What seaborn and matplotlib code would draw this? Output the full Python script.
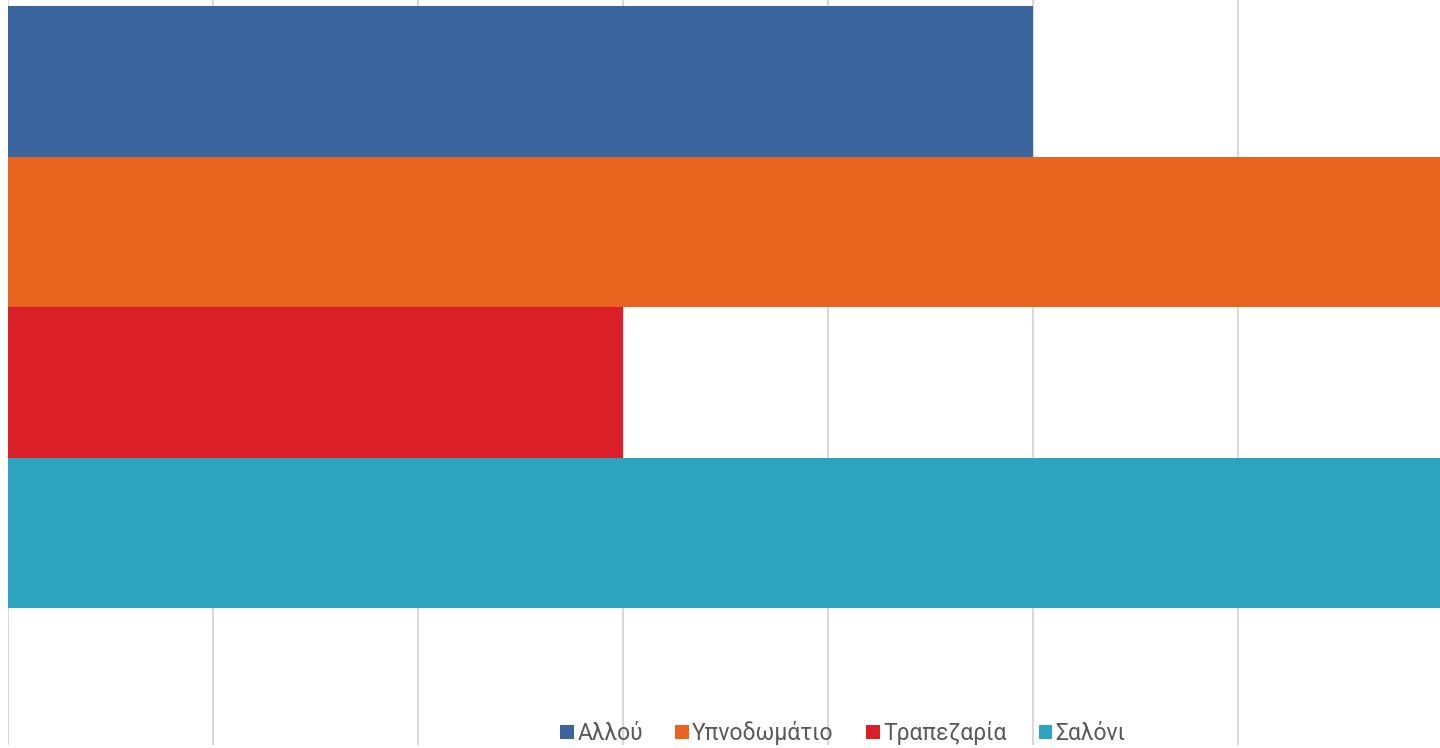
import matplotlib
matplotlib.use('Agg')
import matplotlib.pyplot as plt
import seaborn as sns
import pandas as pd
from matplotlib.patches import Patch

# series (top to bottom) and values
rooms = ['Αλλού', 'Υπνοδωμάτιο', 'Τραπεζαρία', 'Σαλόνι']
values = [5, 7, 3, 7]
colors = ['#3A659E', '#E9641F', '#DA1F28', '#2CA3BF']

df = pd.DataFrame({'room': rooms, 'value': values})

sns.set_style('white')
plt.rcParams['font.family'] = ['Roboto', 'DejaVu Sans']

fig = plt.figure(figsize=(14.4, 7.48), dpi=100)
ax = fig.add_axes([8 / 1440, 3 / 748, (1443 - 8) / 1440, 745 / 748])

sns.barplot(data=df, y='room', x='value', hue='room', palette=colors,
            orient='h', width=1.0, legend=False, ax=ax, zorder=2,
            saturation=1, linewidth=0)

ax.set_xlim(0, 7)
ax.set_ylim(4.41, -0.54)
ax.set_xticks(range(0, 8))
ax.grid(axis='x', color='#d9d9d9', linewidth=1.5, zorder=0)
ax.grid(axis='y', visible=False)
ax.set_axisbelow(True)
ax.set_xticklabels([])
ax.set_yticklabels([])
ax.tick_params(length=0)
ax.set_xlabel('')
ax.set_ylabel('')
for s in ax.spines.values():
    s.set_visible(False)

handles = [Patch(facecolor=c, edgecolor='none', label=r) for r, c in zip(rooms, colors)]
fig.legend(handles=handles, loc='center', bbox_to_anchor=(843 / 1440, 15 / 748),
           ncol=4, frameon=False, fontsize=16.5, handlelength=0.6, handleheight=0.6,
           handletextpad=0.15, columnspacing=1.4, labelcolor='#595959')

fig.savefig('out.png', dpi=100)
